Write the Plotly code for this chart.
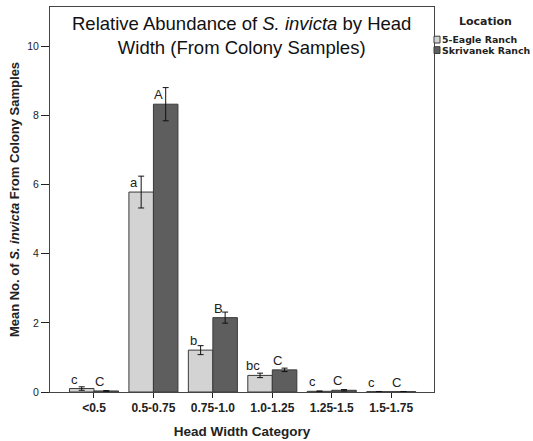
import plotly.graph_objects as go

categories = ["<0.5", "0.5-0.75", "0.75-1.0", "1.0-1.25", "1.25-1.5", "1.5-1.75"]
eagle_mean = [0.10, 5.78, 1.21, 0.48, 0.02, 0.01]
eagle_err = [0.05, 0.46, 0.13, 0.065, 0.01, 0.005]
skriv_mean = [0.03, 8.32, 2.15, 0.64, 0.05, 0.01]
skriv_err = [0.01, 0.48, 0.16, 0.05, 0.02, 0.005]
eagle_letters = ["c", "a", "b", "bc", "c", "c"]
skriv_letters = ["C", "A", "B", "C", "C", "C"]
series_names = ["5-Eagle Ranch", "Skrivanek Ranch"]
legend_title = "Location"
chart_title = "Relative Abundance of <i>S. invicta</i> by Head<br>Width (From Colony Samples)"
y_ticks = [0, 2, 4, 6, 8, 10]

W, H = 533, 441
L, R, T, B = 50, 99, 7, 49
PW, PH = W - L - R, H - T - B

LIGHT = "#d3d3d3"
DARK = "#5e5e5e"
EDGE = "#3a3a3a"
BARGAP = 0.175

TICKFONT = "Liberation Sans, Arial, sans-serif"
LEGFONT = "DejaVu Sans, Tahoma, sans-serif"

fig = go.Figure()
for name, vals, errs, col in [
    (series_names[0], eagle_mean, eagle_err, LIGHT),
    (series_names[1], skriv_mean, skriv_err, DARK),
]:
    fig.add_trace(go.Bar(
        x=categories, y=vals, name=name,
        marker=dict(color=col, line=dict(color=EDGE, width=1)),
        error_y=dict(type="data", array=errs, visible=True, color="#111111",
                     thickness=1, width=3),
        showlegend=False,
    ))

# significance letters
half = (1 - BARGAP) / 4
annotations = []
for i in range(len(categories)):
    for letters, vals, off in [(eagle_letters, eagle_mean, -half), (skriv_letters, skriv_mean, half)]:
        annotations.append(dict(
            x=i + off, y=vals[i], xref="x", yref="y", text=letters[i],
            showarrow=False, xanchor="center", yanchor="bottom", xshift=-7, yshift=0,
            font=dict(family=TICKFONT, size=13, color="#222222"),
        ))

def px_x(px):
    return (px - L) / PW

def px_y(py):
    return (H - B - py) / PH

# title
annotations.append(dict(
    x=px_x(241), y=px_y(11), xref="paper", yref="paper", text=chart_title,
    showarrow=False, xanchor="center", yanchor="top", align="center",
    font=dict(family=TICKFONT, size=18.5, color="#111111"),
))

# manual legend
annotations.append(dict(
    x=px_x(485), y=px_y(21), xref="paper", yref="paper", text="<b>%s</b>" % legend_title,
    showarrow=False, xanchor="center", yanchor="middle", borderpad=0,
    font=dict(family=LEGFONT, size=11, color="#222222"),
))
shapes = []
for k, (name, col) in enumerate(zip(series_names, [LIGHT, DARK])):
    y0 = 36.2 + k * 10.5
    shapes.append(dict(type="rect", xref="paper", yref="paper",
                       x0=px_x(434), x1=px_x(440), y0=px_y(y0 + 6.8), y1=px_y(y0),
                       fillcolor=col, line=dict(color=EDGE, width=1)))
    annotations.append(dict(
        x=px_x(440.5), y=px_y(y0 + 3.4), xref="paper", yref="paper", text="<b>%s</b>" % name,
        showarrow=False, xanchor="left", yanchor="middle", borderpad=0,
        font=dict(family=LEGFONT, size=9.4, color="#222222"),
    ))

fig.update_layout(
    width=W, height=H,
    margin=dict(l=L, r=R, t=T, b=B, pad=0),
    paper_bgcolor="white", plot_bgcolor="white",
    barmode="group", bargap=BARGAP, bargroupgap=0,
    xaxis=dict(
        type="category", range=[-0.74, 5.72],
        showline=True, linecolor="#444444", linewidth=1, mirror=True,
        ticks="outside", ticklen=5, tickcolor="#222222",
        tickfont=dict(family=TICKFONT, size=12, color="#222222"),
        tickprefix="<b>", ticksuffix="</b>",
        showgrid=False, zeroline=False,
        title=dict(text="<b>Head Width Category</b>", standoff=12,
                   font=dict(family=TICKFONT, size=13.5, color="#222222")),
        automargin=False,
    ),
    yaxis=dict(
        range=[0, 11.13], tickvals=y_ticks,
        showline=True, linecolor="#444444", linewidth=1, mirror=True,
        ticks="outside", ticklen=8, tickcolor="#222222",
        tickfont=dict(family=TICKFONT, size=10.5, color="#222222"),
        tickprefix="<b>", ticksuffix="</b>",
        showgrid=False, zeroline=False,
        title=dict(text="<b>Mean No. of <i>S. invicta</i> From Colony Samples</b>", standoff=4,
                   font=dict(family=TICKFONT, size=13, color="#222222")),
        automargin=False,
    ),
    annotations=annotations,
    shapes=shapes,
)

fig.write_html("out.html")
